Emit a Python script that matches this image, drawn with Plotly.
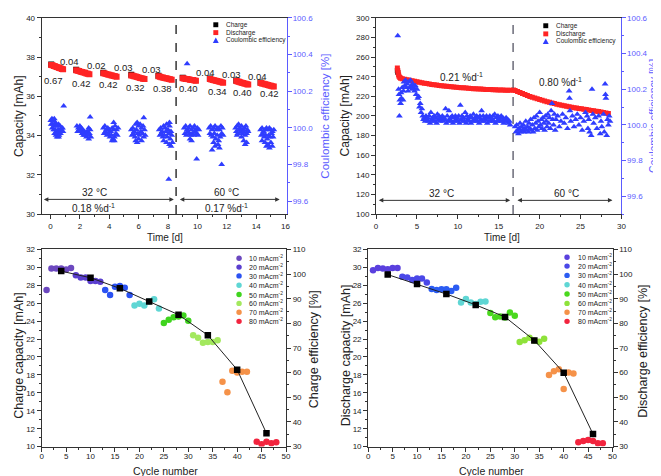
import plotly.graph_objects as go

W, H = 661, 476
FONT = "Arial, 'Liberation Sans', sans-serif"
INK = "#222222"
AXC = "#333333"
EFF_BLUE = "#5b5bff"
RED = "#ff2424"
TRI = "#2f3dff"

# ================= Panel (top-left): capacity vs time, 32/60 °C =================
a_dis_t = [0.05, 0.14, 0.23, 0.32, 0.41, 0.50, 0.59, 0.68, 0.77, 0.86,
           1.75, 1.85, 1.95, 2.05, 2.15, 2.25, 2.35, 2.45, 2.55, 2.65,
           3.60, 3.70, 3.80, 3.90, 4.00, 4.10, 4.20, 4.30, 4.40, 4.50,
           5.50, 5.60, 5.70, 5.80, 5.90, 6.00, 6.10, 6.20, 6.30, 6.40,
           7.35, 7.45, 7.55, 7.65, 7.75, 7.85, 7.95, 8.05, 8.15, 8.25,
           9.00, 9.10, 9.20, 9.30, 9.40, 9.50, 9.60, 9.70, 9.80, 9.90,
           10.85, 10.95, 11.05, 11.15, 11.25, 11.35, 11.45, 11.55, 11.65, 11.75,
           12.65, 12.74, 12.83, 12.92, 13.01, 13.10, 13.19, 13.28, 13.37, 13.46,
           14.30, 14.40, 14.50, 14.60, 14.70, 14.80, 14.90, 15.00, 15.10, 15.20]
a_dis_v = [37.60, 37.58, 37.55, 37.53, 37.50, 37.48, 37.45, 37.43, 37.40, 37.38,
           37.33, 37.31, 37.29, 37.26, 37.24, 37.22, 37.20, 37.17, 37.15, 37.13,
           37.18, 37.16, 37.14, 37.12, 37.10, 37.08, 37.06, 37.04, 37.02, 37.00,
           37.07, 37.05, 37.03, 37.01, 36.99, 36.96, 36.94, 36.92, 36.90, 36.88,
           37.02, 37.00, 36.98, 36.96, 36.94, 36.93, 36.91, 36.89, 36.87, 36.85,
           36.92, 36.91, 36.89, 36.88, 36.87, 36.85, 36.84, 36.83, 36.81, 36.80,
           36.88, 36.86, 36.84, 36.82, 36.80, 36.78, 36.76, 36.74, 36.72, 36.70,
           36.78, 36.76, 36.74, 36.72, 36.70, 36.68, 36.66, 36.64, 36.62, 36.60,
           36.68, 36.66, 36.64, 36.62, 36.60, 36.58, 36.56, 36.54, 36.52, 36.50]
a_chg_t = [0.05, 1.75, 3.60, 5.50, 7.35, 9.00, 10.85, 12.65, 14.30]
a_chg_v = [37.63, 37.36, 37.21, 37.10, 37.05, 36.95, 36.91, 36.81, 36.71]
a_ce = [
    (0.02, 100.04), (0.10, 100.05), (0.18, 100.04), (0.26, 100.05), (0.34, 100.03), (0.05, 100.02),
    (0.15, 100.02), (0.25, 100.01), (0.35, 100.02), (0.45, 100.01), (0.55, 100.02), (0.65, 100.01),
    (0.75, 100.00), (0.12, 100.00), (0.22, 99.99), (0.32, 99.99), (0.42, 99.98), (0.52, 99.99),
    (0.62, 99.98), (0.72, 99.99), (0.82, 100.00), (0.28, 99.97), (0.38, 99.96), (0.48, 99.97),
    (0.58, 99.96), (0.68, 99.97), (0.45, 99.95), (0.55, 99.95), (0.85, 99.98), (0.90, 100.12),
    (1.80, 100.01), (1.90, 100.00), (2.00, 100.01), (2.10, 100.00), (2.20, 99.99), (2.30, 99.98),
    (2.40, 99.97), (2.50, 99.98), (2.60, 100.00), (2.70, 99.99), (1.85, 99.98), (1.95, 99.99),
    (2.05, 99.98), (2.15, 99.97), (2.25, 99.96), (2.35, 99.96), (2.45, 99.95), (2.55, 99.96),
    (2.65, 99.97), (2.75, 99.95), (2.60, 99.94), (2.70, 100.06),
    (3.60, 100.00), (3.70, 100.01), (3.80, 99.99), (3.90, 100.00), (4.00, 99.99), (4.10, 99.98),
    (4.20, 100.00), (4.30, 99.99), (4.40, 100.01), (4.50, 99.99), (4.60, 100.00), (3.65, 99.97),
    (3.75, 99.98), (3.85, 99.96), (3.95, 99.97), (4.05, 99.95), (4.15, 99.96), (4.25, 99.94),
    (4.35, 99.95), (4.45, 99.97), (4.55, 99.96), (4.20, 99.93), (4.35, 99.93), (4.30, 100.03),
    (5.50, 99.99), (5.60, 100.00), (5.70, 99.98), (5.80, 100.02), (5.90, 100.03), (6.00, 100.01),
    (6.10, 100.02), (6.20, 100.00), (6.30, 100.01), (6.40, 99.99), (5.55, 99.96), (5.65, 99.97),
    (5.75, 99.95), (5.85, 99.99), (5.95, 99.97), (6.05, 99.96), (6.15, 99.98), (6.25, 99.97),
    (6.35, 99.95), (6.45, 99.96), (5.80, 99.93), (5.90, 99.92), (6.00, 99.94), (6.20, 99.93),
    (6.35, 100.055),
    (7.40, 99.99), (7.50, 100.00), (7.60, 99.98), (7.70, 100.01), (7.80, 100.00), (7.90, 100.02),
    (8.00, 99.99), (8.10, 100.01), (8.20, 99.98), (7.45, 99.96), (7.55, 99.97), (7.65, 99.95),
    (7.75, 99.96), (7.85, 99.98), (7.95, 99.95), (8.05, 99.97), (8.15, 99.94), (8.25, 99.96),
    (7.70, 99.93), (7.90, 99.92), (8.10, 99.91), (8.20, 99.90), (8.30, 99.92), (8.10, 100.03),
    (8.05, 99.72),
    (9.10, 100.00), (9.20, 100.01), (9.30, 99.99), (9.40, 100.00), (9.50, 100.01), (9.60, 99.99),
    (9.70, 100.00), (9.80, 100.01), (9.90, 99.99), (10.00, 100.00), (10.10, 99.99), (9.15, 99.97),
    (9.25, 99.96), (9.35, 99.98), (9.45, 99.97), (9.55, 99.96), (9.65, 99.97), (9.75, 99.96),
    (9.85, 99.98), (9.95, 99.97), (10.05, 99.96), (9.50, 99.94), (9.60, 99.93), (9.30, 100.35),
    (9.95, 99.83),
    (10.80, 100.00), (10.90, 100.01), (11.00, 99.99), (11.10, 100.00), (11.20, 100.01), (11.30, 99.99),
    (11.40, 100.00), (11.50, 99.99), (11.60, 100.01), (11.70, 100.00), (10.85, 99.97), (10.95, 99.96),
    (11.05, 99.95), (11.15, 99.97), (11.25, 99.94), (11.35, 99.96), (11.45, 99.93), (11.55, 99.95),
    (11.65, 99.97), (11.75, 99.96), (11.10, 99.92), (11.20, 99.90), (11.40, 99.91), (11.50, 99.89),
    (11.00, 99.88), (11.65, 99.80),
    (12.60, 100.00), (12.70, 100.01), (12.80, 100.02), (12.90, 100.00), (13.00, 100.01), (13.10, 99.99),
    (13.20, 100.00), (13.30, 100.01), (13.40, 99.99), (12.65, 99.98), (12.75, 99.97), (12.85, 99.99),
    (12.95, 99.98), (13.05, 99.97), (13.15, 99.98), (13.25, 99.96), (13.35, 99.97), (13.45, 99.98),
    (12.70, 99.96), (13.00, 99.95), (13.15, 99.93), (13.25, 99.91), (13.35, 99.92),
    (14.30, 99.99), (14.40, 100.00), (14.50, 99.98), (14.60, 99.99), (14.70, 100.00), (14.80, 99.99),
    (14.90, 100.00), (15.00, 99.99), (15.10, 99.98), (15.20, 99.99), (14.35, 99.96), (14.45, 99.97),
    (14.55, 99.95), (14.65, 99.96), (14.75, 99.94), (14.85, 99.96), (14.95, 99.95), (15.05, 99.97),
    (15.15, 99.95), (14.40, 99.93), (14.60, 99.92), (14.80, 99.91), (15.00, 99.92), (14.70, 99.90),
    (14.90, 99.89), (15.10, 99.90),
]
a_rate_labels = [("0.67", 0.2, 36.8), ("0.04", 1.3, 37.8), ("0.42", 2.1, 36.68), ("0.02", 3.1, 37.57),
                 ("0.42", 3.95, 36.6), ("0.03", 4.95, 37.45), ("0.32", 5.8, 36.43), ("0.03", 6.85, 37.39),
                 ("0.38", 7.65, 36.39), ("0.40", 9.4, 36.42), ("0.04", 10.55, 37.23), ("0.34", 11.35, 36.27),
                 ("0.03", 12.3, 37.1), ("0.40", 13.1, 36.2), ("0.04", 14.1, 37.0), ("0.42", 14.9, 36.15)]

# ================= Panel (top-right): capacity vs time, large cell =================
b_dis_t = [2.60, 2.65, 2.70, 2.75, 2.80, 2.90, 3.00, 3.20, 3.50, 3.80, 4.10, 4.40, 4.70, 5.00,
           5.30, 5.60, 5.90, 6.20, 6.50, 6.80, 7.10, 7.40, 7.70, 8.00, 8.30, 8.60, 8.90, 9.20,
           9.50, 9.80, 10.10, 10.40, 10.70, 11.00, 11.30, 11.60, 11.90, 12.20, 12.50, 12.80,
           13.10, 13.40, 13.70, 14.00, 14.30, 14.60, 14.90, 15.20, 15.50, 15.80, 16.10, 16.40,
           16.80, 17.00, 17.30, 17.60, 17.90, 18.20, 18.50, 18.80, 19.10, 19.40, 19.70, 20.00,
           20.30, 20.60, 20.90, 21.20, 21.50, 21.80, 22.10, 22.40, 22.70, 23.00, 23.30, 23.60,
           23.90, 24.20, 24.50, 24.80, 25.10, 25.40, 25.70, 26.00, 26.30, 26.60, 26.90, 27.20,
           27.50, 27.80, 28.10, 28.40]
b_dis_v = [249.0, 246.5, 244.0, 242.0, 240.5, 239.2, 238.6, 238.0, 237.4, 236.9, 236.4, 235.9, 235.4, 235.0,
           234.5, 234.0, 233.5, 233.1, 232.6, 232.2, 231.8, 231.5, 231.2, 230.9, 230.6, 230.3, 230.0, 229.8,
           229.5, 229.3, 229.1, 228.9, 228.7, 228.5, 228.3, 228.1, 227.9, 227.7, 227.6, 227.4,
           227.3, 227.1, 227.0, 226.9, 226.8, 226.7, 226.6, 226.5, 226.4, 226.3, 226.2, 226.2,
           226.5, 226.0, 225.0, 224.0, 223.0, 222.0, 221.0, 220.0, 219.2, 218.4, 217.6, 216.8,
           216.0, 215.3, 214.6, 214.0, 213.3, 212.7, 212.1, 211.5, 211.0, 210.5, 210.0, 209.5,
           209.0, 208.5, 208.1, 207.7, 207.3, 206.9, 206.5, 206.1, 205.7, 205.3, 204.9, 204.5,
           204.1, 203.6, 203.1, 202.6]
b_chg_t = [2.60, 2.65]
b_chg_v = [246.5, 244.5]
b_ce_rise = [
    (2.65, 100.50), (2.75, 100.20), (2.80, 100.17), (2.85, 100.05), (2.90, 100.14), (3.00, 100.12),
    (3.05, 100.18), (3.10, 100.15), (3.20, 100.21), (3.30, 100.14), (3.35, 100.19), (3.40, 100.24),
    (3.50, 100.22), (3.60, 100.25), (3.70, 100.21), (3.80, 100.23), (3.90, 100.19), (4.00, 100.24),
    (4.10, 100.21), (4.20, 100.25), (4.30, 100.22), (4.40, 100.20), (4.50, 100.23), (4.60, 100.21),
    (4.70, 100.19), (4.80, 100.22), (4.90, 100.17), (5.00, 100.20), (5.10, 100.15), (5.20, 100.16),
    (5.30, 100.10), (5.40, 100.12), (5.50, 100.07), (5.60, 100.09), (5.70, 100.05), (5.80, 100.03),
    (5.90, 100.04),
]
b_ce_band1_t = [6.0, 6.2, 6.4, 6.6, 6.8, 7.0, 7.2, 7.4, 7.6, 7.8,
                8.0, 8.2, 8.4, 8.6, 8.8, 9.0, 9.2, 9.4, 9.6, 9.8,
                10.0, 10.2, 10.4, 10.6, 10.8, 11.0, 11.2, 11.4, 11.6, 11.8,
                12.0, 12.2, 12.4, 12.6, 12.8, 13.0, 13.2, 13.4, 13.6, 13.8,
                14.0, 14.2, 14.4, 14.6, 14.8, 15.0, 15.2, 15.4, 15.6, 15.8,
                16.0, 16.2, 16.4]
b_ce_band1_v = [100.02, 100.03, 100.02, 100.01, 100.03, 100.02, 100.02, 100.01, 100.03, 100.02,
                100.03, 100.02, 100.03, 100.01, 100.02, 100.03, 100.02, 100.01, 100.02, 100.03,
                100.02, 100.01, 100.03, 100.02, 100.02, 100.01, 100.03, 100.02, 100.01, 100.02,
                100.03, 100.02, 100.02, 100.01, 100.03, 100.02, 100.02, 100.03, 100.01, 100.02,
                100.02, 100.03, 100.02, 100.01, 100.02, 100.03, 100.02, 100.02, 100.01, 100.02,
                100.02, 100.01, 100.00]
b_ce_band2_t = [6.1, 6.3, 6.5, 6.7, 6.9, 7.1, 7.3, 7.5, 7.7, 7.9,
                8.1, 8.3, 8.5, 8.7, 8.9, 9.1, 9.3, 9.5, 9.7, 9.9,
                10.1, 10.3, 10.5, 10.7, 10.9, 11.1, 11.3, 11.5, 11.7, 11.9,
                12.1, 12.3, 12.5, 12.7, 12.9, 13.1, 13.3, 13.5, 13.7, 13.9,
                14.1, 14.3, 14.5, 14.7, 14.9, 15.1, 15.3, 15.5, 15.7, 15.9,
                16.1, 16.3]
b_ce_band2_v = [100.05, 100.04, 100.05, 100.07, 100.04, 100.05, 100.04, 100.06, 100.05, 100.04,
                100.05, 100.04, 100.09, 100.05, 100.08, 100.04, 100.05, 100.04, 100.05, 100.04,
                100.05, 100.11, 100.05, 100.04, 100.07, 100.05, 100.04, 100.05, 100.04, 100.06,
                100.04, 100.05, 100.04, 100.05, 100.08, 100.05, 100.04, 100.05, 100.04, 100.05,
                100.04, 100.05, 100.06, 100.04, 100.05, 100.04, 100.05, 100.04, 100.03, 100.04,
                100.03, 100.02]
b_ce_60 = [
    (17.0, 99.99), (17.1, 99.96), (17.2, 100.00), (17.3, 99.97), (17.4, 99.95), (17.5, 99.98), (17.6, 100.01),
    (17.7, 99.96), (17.8, 99.99), (17.9, 99.97), (18.0, 100.00), (18.1, 99.96), (18.2, 99.98), (18.3, 100.02),
    (18.4, 99.97), (18.5, 99.99), (18.6, 99.96), (18.7, 100.01), (18.8, 99.98), (18.9, 100.03), (19.0, 99.97),
    (19.1, 100.00), (19.2, 99.96), (19.3, 100.04), (19.4, 99.98), (19.5, 100.01), (19.6, 100.05), (19.7, 99.97),
    (19.8, 100.02), (19.9, 99.99), (20.0, 100.07), (20.1, 100.00), (20.2, 100.03), (20.3, 99.98), (20.4, 100.04),
    (20.5, 100.01), (20.6, 99.97), (20.7, 100.05), (20.8, 100.02), (20.9, 99.99), (21.0, 100.06), (21.1, 100.01),
    (21.2, 100.04), (21.3, 99.98), (21.4, 100.08), (21.5, 100.12), (21.6, 100.03), (21.7, 100.00), (21.8, 100.06),
    (21.9, 99.97), (22.0, 100.03), (22.2, 100.05), (22.4, 99.99), (22.6, 100.02), (22.8, 100.06), (23.0, 100.01),
    (23.2, 100.04), (23.4, 99.98), (23.6, 100.19), (23.65, 100.15), (23.7, 100.08), (23.8, 100.02), (24.0, 100.05),
    (24.2, 99.99), (24.4, 100.03), (24.6, 100.06), (24.8, 100.00), (25.0, 100.04), (25.2, 99.97), (25.4, 100.02),
    (25.6, 100.07), (25.8, 100.05), (25.9, 99.98), (26.0, 100.03), (26.1, 99.96), (26.3, 99.94), (26.4, 100.20),
    (26.5, 100.06), (26.6, 100.01), (26.8, 100.04), (27.0, 99.98), (27.2, 100.05), (27.4, 99.95), (27.5, 100.02),
    (27.6, 99.99), (27.8, 100.06), (27.9, 99.96), (28.0, 100.23), (28.05, 100.17), (28.1, 100.15), (28.2, 99.94),
    (28.3, 100.03), (28.4, 100.00), (28.5, 100.05), (28.6, 100.02),
]

# ================= Bottom panels: rate test =================
rate_names = ["10 mAcm<sup>-2</sup>", "20 mAcm<sup>-2</sup>", "30 mAcm<sup>-2</sup>", "40 mAcm<sup>-2</sup>",
              "50 mAcm<sup>-2</sup>", "60 mAcm<sup>-2</sup>", "70 mAcm<sup>-2</sup>", "80 mAcm<sup>-2</sup>"]
c_colors = ["#6c48bf", "#5a3ecf", "#2b52f2", "#5fd6d4", "#3fd41e", "#a3e85e", "#f59249", "#f2243e"]
d_colors = ["#5a40de", "#4a48e8", "#2b5cf2", "#5fd6d4", "#4ad81e", "#8ee23a", "#f59249", "#f2243e"]
c_cycles = [[1, 2, 3, 4, 5, 6], [7, 8, 9, 10, 11, 12], [13, 14, 15, 16, 17, 18], [19, 20, 21, 22, 23, 24],
            [25, 26, 27, 28, 29, 30], [31, 32, 33, 34, 35, 36], [37, 38, 39, 40, 41, 42], [44, 45, 46, 47, 48]]
c_capacity = [[27.47, 29.87, 29.87, 29.87, 29.76, 29.94], [29.13, 28.87, 28.87, 28.47, 28.47, 28.40],
              [27.47, 26.92, 27.84, 27.92, 27.73, 26.92], [25.75, 25.93, 25.75, 26.20, 26.44, 25.40],
              [23.80, 24.16, 24.42, 24.53, 24.64, 24.05], [22.43, 22.14, 21.59, 21.66, 21.66, 21.88],
              [17.25, 16.07, 18.46, 18.28, 18.35, 18.35], [10.55, 10.26, 10.55, 10.37, 10.48]]
d_cycles = [[1, 2, 3, 4, 5, 6], [7, 8, 9, 10, 11, 12], [13, 14, 15, 16, 17, 18], [19, 20, 21, 22, 23, 24],
            [25, 26, 27, 28, 29, 30], [31, 32, 33, 34, 35, 36], [37, 38, 39, 40, 41, 42], [43, 44, 45, 46, 47, 48]]
d_capacity = [[29.68, 29.94, 29.87, 29.80, 29.94, 29.94], [28.95, 28.87, 28.58, 28.76, 28.76, 28.32],
              [27.58, 27.47, 27.55, 27.55, 27.36, 27.73], [26.08, 26.48, 26.08, 25.90, 26.15, 26.20],
              [24.90, 24.42, 24.53, 24.40, 24.97, 24.60], [21.66, 21.88, 22.14, 21.84, 21.70, 22.03],
              [17.98, 18.40, 18.64, 16.44, 18.28, 18.17], [10.48, 10.62, 10.73, 10.62, 10.37, 10.37]]
eff_cycles = [4, 10, 16, 22, 28, 34, 40, 46]
c_efficiency = [101.2, 98.5, 94.2, 88.9, 83.5, 75.2, 61.2, 35.4]
d_efficiency = [99.8, 96.0, 91.9, 87.5, 82.6, 73.1, 60.0, 35.1]


# ================= helpers =================
def px(x):
    return x / W


def py(y):
    return 1 - y / H


fig = go.Figure()

# --- top-left traces
fig.add_trace(go.Scatter(x=a_chg_t, y=a_chg_v, mode="markers", xaxis="x", yaxis="y",
                         marker=dict(symbol="square", size=6, color="black"), showlegend=False))
fig.add_trace(go.Scatter(x=a_dis_t, y=a_dis_v, mode="markers", xaxis="x", yaxis="y",
                         marker=dict(symbol="square", size=6, color=RED), showlegend=False))
fig.add_trace(go.Scatter(x=[p[0] for p in a_ce], y=[p[1] for p in a_ce], mode="markers", xaxis="x", yaxis="y2",
                         marker=dict(symbol="triangle-up", size=6, color=TRI), showlegend=False))

# --- top-right traces
fig.add_trace(go.Scatter(x=b_chg_t, y=b_chg_v, mode="markers", xaxis="x2", yaxis="y3",
                         marker=dict(symbol="square", size=5, color="black"), showlegend=False))
fig.add_trace(go.Scatter(x=b_dis_t, y=b_dis_v, mode="markers", xaxis="x2", yaxis="y3",
                         marker=dict(symbol="square", size=5, color=RED), showlegend=False))
b_ce_t = [p[0] for p in b_ce_rise] + b_ce_band1_t + b_ce_band2_t + [p[0] for p in b_ce_60]
b_ce_v = [p[1] for p in b_ce_rise] + b_ce_band1_v + b_ce_band2_v + [p[1] for p in b_ce_60]
fig.add_trace(go.Scatter(x=b_ce_t, y=b_ce_v, mode="markers", xaxis="x2", yaxis="y4",
                         marker=dict(symbol="triangle-up", size=6, color=TRI), showlegend=False))

# --- bottom-left traces
for cyc, cap, col in zip(c_cycles, c_capacity, c_colors):
    fig.add_trace(go.Scatter(x=cyc, y=cap, mode="markers", xaxis="x3", yaxis="y5",
                             marker=dict(symbol="circle", size=6.5, color=col), showlegend=False))
fig.add_trace(go.Scatter(x=eff_cycles, y=c_efficiency, mode="lines+markers", xaxis="x3", yaxis="y6",
                         line=dict(color="#222", width=1),
                         marker=dict(symbol="square", size=6.5, color="black"), showlegend=False))

# --- bottom-right traces
for cyc, cap, col in zip(d_cycles, d_capacity, d_colors):
    fig.add_trace(go.Scatter(x=cyc, y=cap, mode="markers", xaxis="x4", yaxis="y7",
                             marker=dict(symbol="circle", size=6.5, color=col), showlegend=False))
fig.add_trace(go.Scatter(x=eff_cycles, y=d_efficiency, mode="lines+markers", xaxis="x4", yaxis="y8",
                         line=dict(color="#222", width=1),
                         marker=dict(symbol="square", size=6.5, color="black"), showlegend=False))


# ================= axes =================
def ax(domain=None, rng=None, dtick=None, minor=None, tick0=0, color=AXC, fontcolor=INK, fmt=None, **kw):
    d = dict(range=rng, tickmode="linear", tick0=tick0, dtick=dtick, ticks="outside", ticklen=4,
             tickwidth=1, tickcolor=color, showline=True, linecolor=color, linewidth=1,
             showgrid=False, zeroline=False, tickfont=dict(size=8, color=fontcolor, family=FONT),
             minor=dict(ticks="outside", ticklen=2, tickwidth=1, tickcolor=color, dtick=minor,
                        tick0=tick0, showgrid=False))
    if domain is not None:
        d["domain"] = domain
    if fmt:
        d["tickformat"] = fmt
    d.update(kw)
    return d


top_dom = [py(206), py(6)]
bot_dom = [py(443), py(242)]

fig.update_layout(
    xaxis=ax([px(32), px(280)], [-0.6, 16.1], 2, 1, anchor="y", mirror=True),
    yaxis=ax(top_dom, [30, 40], 2, 1, anchor="x"),
    yaxis2=ax(None, [99.53, 100.6], 0.2, 0.1, tick0=99.6, color=EFF_BLUE, fontcolor=EFF_BLUE, fmt=".1f",
              overlaying="y", side="right", anchor="x", ticklabelstandoff=-1),
    xaxis2=ax([px(370), px(618)], [0, 30], 5, 2.5, anchor="y3", mirror=True),
    yaxis3=ax(top_dom, [100, 300], 20, 10, anchor="x2"),
    yaxis4=ax(None, [99.5, 100.6], 0.2, 0.1, tick0=99.6, color=EFF_BLUE, fontcolor=EFF_BLUE, fmt=".1f",
              overlaying="y3", side="right", anchor="x2", ticklabelstandoff=-1),
    xaxis3=ax([px(32), px(279)], [0, 50], 5, 2.5, anchor="y5", mirror=True, ticklabelstandoff=-2),
    yaxis5=ax(bot_dom, [10, 32], 2, 1, anchor="x3"),
    yaxis6=ax(None, [30, 110], 10, 5, overlaying="y5", side="right", anchor="x3"),
    xaxis4=ax([px(362), px(609)], [0, 50], 5, 2.5, anchor="y7", mirror=True, ticklabelstandoff=-2),
    yaxis7=ax(bot_dom, [10, 32], 2, 1, anchor="x4"),
    yaxis8=ax(None, [30, 110], 10, 5, overlaying="y7", side="right", anchor="x4"),
)

# ================= shapes: dashed separators + legend swatches =================
shapes = [
    dict(type="line", xref="x", yref="y domain", x0=8.55, x1=8.55, y0=0, y1=1,
         line=dict(color="#333", width=1.5, dash="dash")),
    dict(type="line", xref="x2", yref="y3 domain", x0=16.75, x1=16.75, y0=0, y1=1,
         line=dict(color="#445", width=1.2, dash="dash")),
]


def sq(cx, cy, s, col):
    return dict(type="rect", xref="paper", yref="paper", x0=px(cx - s / 2), x1=px(cx + s / 2),
                y0=py(cy + s / 2), y1=py(cy - s / 2), fillcolor=col, line=dict(width=0))


def circ(cx, cy, s, col):
    return dict(type="circle", xref="paper", yref="paper", x0=px(cx - s / 2), x1=px(cx + s / 2),
                y0=py(cy + s / 2), y1=py(cy - s / 2), fillcolor=col, line=dict(width=0))


def tri(cx, cy, s, col):
    path = (f"M {px(cx - s / 2)},{py(cy + s / 2.4)} L {px(cx + s / 2)},{py(cy + s / 2.4)} "
            f"L {px(cx)},{py(cy - s / 2)} Z")
    return dict(type="path", xref="paper", yref="paper", path=path, fillcolor=col, line=dict(width=0))


annotations = []


def label(x, y, text, size=6.5, color=INK):
    annotations.append(dict(x=px(x), y=py(y), xref="paper", yref="paper", text=text, showarrow=False,
                            xanchor="left", yanchor="middle", font=dict(size=size, color=color, family=FONT)))


legend_top = [("Charge", "black", "sq"), ("Discharge", RED, "sq"), ("Coulombic efficiency", TRI, "tri")]
for (name, col, kind), yy in zip(legend_top, [13, 21, 29]):
    shapes.append(sq(208, yy, 5, col) if kind == "sq" else tri(208, yy, 6, col))
    label(216, yy, name)
for (name, col, kind), yy in zip(legend_top, [14, 22.3, 30]):
    shapes.append(sq(541.5, yy, 5, col) if kind == "sq" else tri(541.5, yy, 6, col))
    label(550, yy, name)

rows_bl = [251, 260, 269, 278.5, 288, 297, 306, 315.3]
rows_br = [250, 259, 268.5, 278, 287.5, 297, 306, 315.3]
for name, col, yy in zip(rate_names, c_colors, rows_bl):
    shapes.append(circ(231.5, yy, 5.5, col))
    label(240, yy, name, size=7)
for name, col, yy in zip(rate_names, d_colors, rows_br):
    shapes.append(circ(563, yy, 5.5, col))
    label(572, yy, name, size=7)

# ================= text annotations on data =================
for txt, x, y in a_rate_labels:
    annotations.append(dict(x=x, y=y, xref="x", yref="y", text=txt, showarrow=False,
                            font=dict(size=9.5, color=INK, family=FONT)))


def dtext(x, y, xr, yr, txt, size=10):
    annotations.append(dict(x=x, y=y, xref=xr, yref=yr, text=txt, showarrow=False,
                            font=dict(size=size, color=INK, family=FONT)))


dtext(3.0, 31.12, "x", "y", "32 °C")
dtext(2.9, 30.33, "x", "y", "0.18 %d<sup>-1</sup>")
dtext(12.0, 31.12, "x", "y", "60 °C")
dtext(12.0, 30.33, "x", "y", "0.17 %d<sup>-1</sup>")
dtext(10.5, 240, "x2", "y3", "0.21 %d<sup>-1</sup>")
dtext(22.6, 235, "x2", "y3", "0.80 %d<sup>-1</sup>")
dtext(8.0, 121, "x2", "y3", "32 °C")
dtext(23.3, 121, "x2", "y3", "60 °C")


def arrow(x0, x1, y, xr, yr):
    annotations.append(dict(x=x1, y=y, ax=x0, ay=y, xref=xr, yref=yr, axref=xr, ayref=yr, text="",
                            showarrow=True, arrowhead=2, arrowside="end+start", arrowsize=0.9,
                            arrowwidth=1, arrowcolor="#333", standoff=0, startstandoff=0))


arrow(-0.55, 8.4, 30.75, "x", "y")
arrow(8.7, 15.6, 30.75, "x", "y")
arrow(0.15, 16.4, 114, "x2", "y3")
arrow(17.1, 28.9, 114, "x2", "y3")


# ================= axis titles =================
def title(x, y, txt, angle=0, size=10, color=INK):
    annotations.append(dict(x=px(x), y=py(y), xref="paper", yref="paper", text=txt, showarrow=False,
                            textangle=angle, xanchor="center", yanchor="middle",
                            font=dict(size=size, color=color, family=FONT)))


title(9, 106, "Capacity [mAh]", -90, 12)
title(318, 106, "Coulombic efficiency [%]", -90, 11.5, EFF_BLUE)
title(157, 230, "Time [d]", 0, 10)
title(339, 106, "Capacity [mAh]", -90, 12)
title(650, 106, "Coulombic efficiency [%]", -90, 10.5, EFF_BLUE)
title(497, 230, "Time [d]", 0, 10)
title(9.5, 350, "Charge capacity [mAh]", -90, 12.5)
title(308, 344, "Charge efficiency [%]", -90, 12.5)
title(157, 468, "Cycle number", 0, 10.5)
title(339.5, 350, "Discharge capacity [mAh]", -90, 12.5)
title(640, 346, "Discharge efficiency [%]", -90, 12.5)
title(487, 468, "Cycle number", 0, 10.5)

fig.update_layout(
    width=W, height=H, autosize=False,
    margin=dict(l=0, r=0, t=0, b=0),
    paper_bgcolor="white", plot_bgcolor="white",
    font=dict(family=FONT, color=INK),
    showlegend=False,
    shapes=shapes, annotations=annotations,
)

fig.write_html("out.html")
